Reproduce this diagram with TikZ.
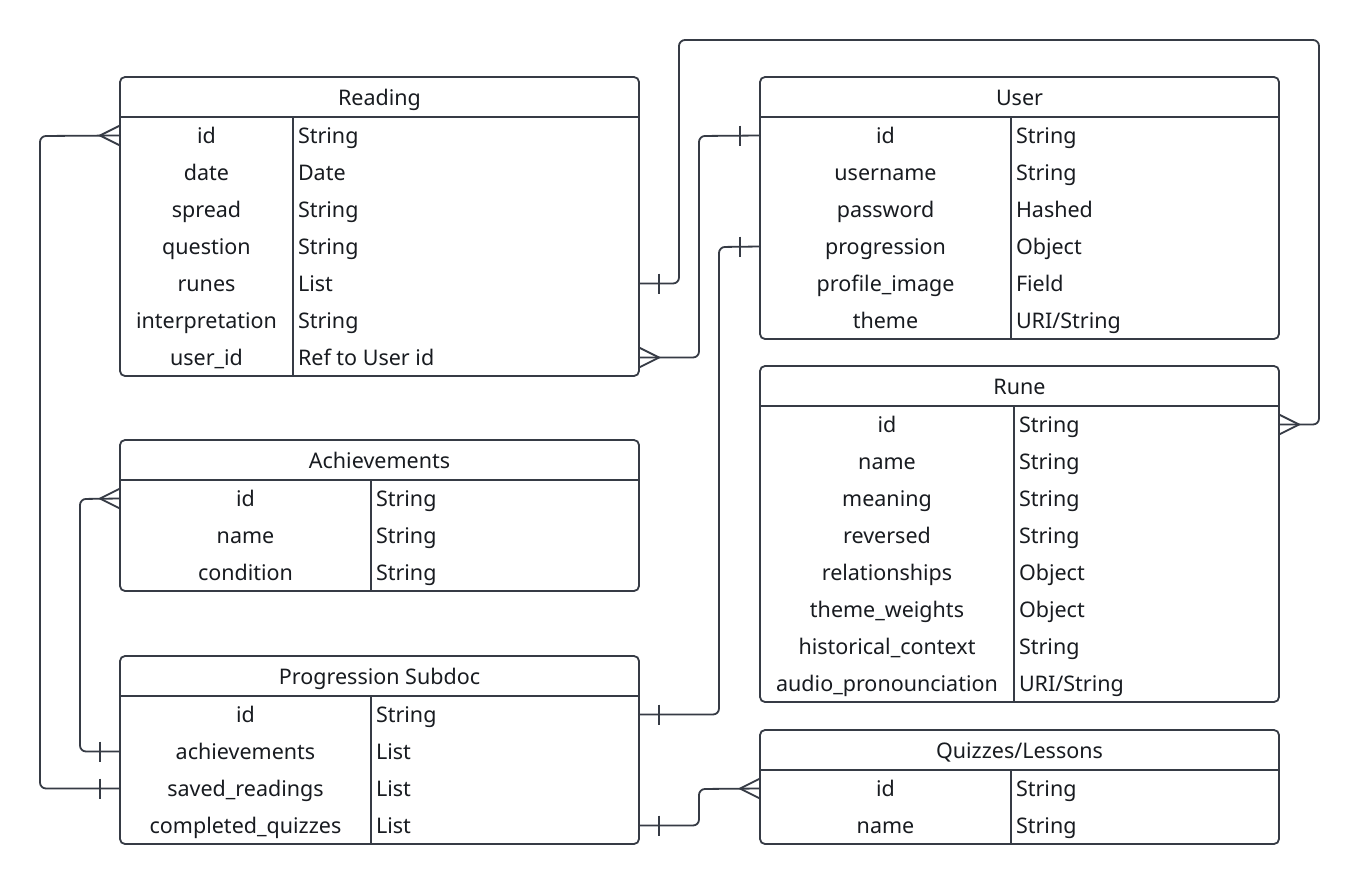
\documentclass[tikz,border=0pt]{standalone}
\usepackage{fontspec}
\setmainfont{Noto Sans}
\usetikzlibrary{calc}
\definecolor{ink}{HTML}{363B45}
\definecolor{txt}{HTML}{181B20}
\tikzset{
  ent/.style={draw=ink, line width=1.8pt, rounded corners=5pt, fill=white, anchor=north west, inner sep=0pt, outer sep=0pt},
  sep/.style={draw=ink, line width=1.8pt},
  cell/.style={inner sep=0pt, outer sep=0pt, text=txt, font=\fontsize{21.5}{25}\selectfont, text height=17pt, text depth=1pt},
  keyt/.style={cell, anchor=center},
  typet/.style={cell, anchor=west},
  titlet/.style={cell, anchor=center},
  rel/.style={draw=ink, line width=1.8pt, rounded corners=6pt},
  endl/.style={draw=ink, line width=1.8pt},
  oneR/.pic={\draw[endl] (20,-10) -- (20,10);},
  oneL/.pic={\draw[endl] (-20,-10) -- (-20,10);},
  crowR/.pic={\draw[endl] (0,-10) -- (20,0) -- (0,10); \draw[endl] (0,0) -- (20,0);},
  crowL/.pic={\draw[endl] (0,-10) -- (-20,0) -- (0,10); \draw[endl] (0,0) -- (-20,0);},
}
\newcommand\ERtab[7]{%
  \node[ent, minimum width=519pt, minimum height={40pt+37pt*#5}] (#1) at (#2,#3) {};
  \draw[sep] ({#2},{#3+40}) -- ({#2+519},{#3+40});
  \draw[sep] ({#4},{#3+40}) -- ({#4},{#3+40+37*#5});
  \node[titlet] (#1-title) at ({#2+259.5},{#3+20}) {#6};
  \foreach \ek/\el/\et [count=\ei] in {#7} {
    \node[keyt] (#1-\ek) at ({(#2+#4)/2},{#3+40+37*\ei-18.5}) {\el};
    \node[typet] (#1-\ek-type) at ({#4+5},{#3+40+37*\ei-18.5}) {\et};
  }%
}
\begin{document}
\begin{tikzpicture}[x=1pt,y=-1pt]
\useasboundingbox[fill=white] (0,0) rectangle (1360,884);

\ERtab{reading}{120}{77}{293}{7}{Reading}{id/id/String, date/date/Date, spread/spread/String, question/question/String, runes/runes/List, interpretation/interpretation/String, userid/user\_id/Ref to User id}
\ERtab{user}{760}{77}{1011}{6}{User}{id/id/String, username/username/String, password/password/Hashed, progression/progression/Object, profileimage/profile\_image/Field, theme/theme/{URI/String}}
\ERtab{rune}{760}{366}{1014}{8}{Rune}{id/id/String, name/name/String, meaning/meaning/String, reversed/reversed/String, relationships/relationships/Object, themeweights/theme\_weights/Object, historical/historical\_context/String, audio/audio\_pronounciation/{URI/String}}
\ERtab{ach}{120}{440}{371}{3}{Achievements}{id/id/String, name/name/String, condition/condition/String}
\ERtab{prog}{120}{656}{371}{4}{Progression Subdoc}{id/id/String, ach/achievements/List, sr/saved\_readings/List, cq/completed\_quizzes/List}
\ERtab{quiz}{760}{730}{1011}{2}{Quizzes/Lessons}{id/id/String, name/name/String}

\coordinate (c1a) at (679,40);
\coordinate (c1b) at (1319,40);
\coordinate (c2) at (699,136);
\coordinate (c3) at (719,247);
\coordinate (c4) at (699,789);
\coordinate (c5) at (80,499);
\coordinate (c6) at (40,136);

\draw[rel] (reading.east |- reading-runes) -| (c1a) -- (c1b) |- (rune.east |- rune-id);
\draw[rel] (reading.east |- reading-userid) -| (c2) -- (user.west |- user-id);
\draw[rel] (prog.east |- prog-id) -| (c3) -- (user.west |- user-progression);
\draw[rel] (prog.east |- prog-cq) -| (c4) -- (quiz.west |- quiz-id);
\draw[rel] (prog.west |- prog-ach) -| (c5) -- (ach.west |- ach-id);
\draw[rel] (prog.west |- prog-sr) -| (c6) -- (reading.west |- reading-id);

\pic at (reading.east |- reading-runes) {oneR};
\pic at (rune.east |- rune-id) {crowR};
\pic at (reading.east |- reading-userid) {crowR};
\pic at (user.west |- user-id) {oneL};
\pic at (prog.east |- prog-id) {oneR};
\pic at (user.west |- user-progression) {oneL};
\pic at (prog.east |- prog-cq) {oneR};
\pic at (quiz.west |- quiz-id) {crowL};
\pic at (prog.west |- prog-ach) {oneL};
\pic at (ach.west |- ach-id) {crowL};
\pic at (prog.west |- prog-sr) {oneL};
\pic at (reading.west |- reading-id) {crowL};
\end{tikzpicture}
\end{document}
